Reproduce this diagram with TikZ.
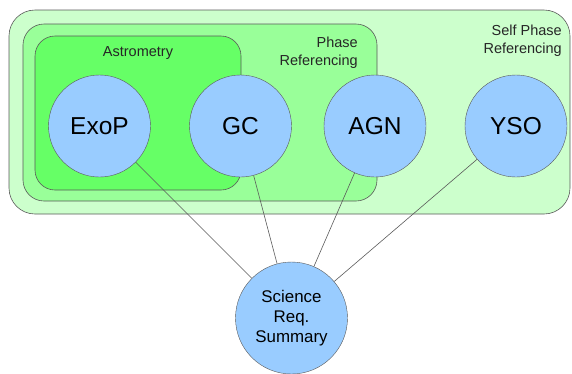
\documentclass[tikz,border=0pt]{standalone}
\usepackage{fontspec}
\setmainfont{Liberation Sans}
\definecolor{selfgreen}{RGB}{204,255,204}
\definecolor{phasegreen}{RGB}{153,255,153}
\definecolor{astrogreen}{RGB}{102,255,102}
\definecolor{topicblue}{RGB}{153,204,255}
\definecolor{edgegray}{RGB}{90,90,90}
\tikzset{
  topic/.style={circle,draw=edgegray,fill=topicblue,minimum size=102pt,inner sep=0pt,font=\fontsize{24.5}{28}\selectfont},
  group/.style={draw=edgegray,line width=0.6pt},
  grouplabel/.style={font=\fontsize{14.5}{18}\selectfont,text=black!85,inner sep=0pt},
  link/.style={edgegray,line width=0.6pt}
}
\begin{document}
\begin{tikzpicture}[x=1pt,y=-1pt]
        \useasboundingbox (0,0) rectangle (572,373);
        % Groups
        \draw[group,fill=selfgreen,rounded corners=26pt] (9,10) rectangle (570,214);
        \draw[group,fill=phasegreen,rounded corners=21pt] (23,24) rectangle (377,201);
        \draw[group,fill=astrogreen,rounded corners=20pt] (35,36) rectangle (241,190);
        % Group labels
        \node[grouplabel] (astrolbl) at (138,53) {Astrometry};
        \node[grouplabel,align=right,anchor=north east] (phaselbl) at (358,37) {Phase\\Referencing};
        \node[grouplabel,align=right,anchor=north east] (selflbl) at (562,25) {Self Phase\\Referencing};
        % Topics
        \node[topic] (exop) at (99.5,126) {ExoP};
        \node[topic] (gc) at (240.5,126) {GC};
        \node[topic] (agn) at (375,126) {AGN};
        \node[topic] (yso) at (516,126) {YSO};
        \node[topic,minimum size=112pt,align=center,font=\fontsize{16.9}{20}\selectfont] (sci) at (291.5,318) {Science\\Req.\\Summary};
        % Links
        \draw[link] (exop) -- (sci);
        \draw[link] (gc) -- (sci);
        \draw[link] (agn) -- (sci);
        \draw[link] (yso) -- (sci);
      \end{tikzpicture}
\end{document}
